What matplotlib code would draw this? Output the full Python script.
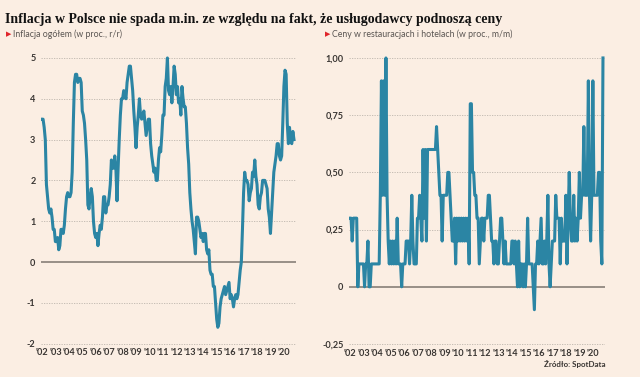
import numpy as np
import matplotlib
matplotlib.use("Agg")
import matplotlib.pyplot as plt

# monthly data, Jan 2002 - Oct 2020
inflacja = [
    3.5, 3.5, 3.3, 3.0, 1.9, 1.6, 1.3, 1.2, 1.3, 1.1, 0.8, 0.8,   # 2002
    0.5, 0.5, 0.6, 0.3, 0.4, 0.8, 0.8, 0.7, 0.9, 1.3, 1.6, 1.7,   # 2003
    1.6, 1.6, 1.7, 2.2, 3.4, 4.4, 4.6, 4.6, 4.4, 4.5, 4.5, 4.4,   # 2004
    3.7, 3.6, 3.4, 3.0, 2.5, 1.4, 1.3, 1.6, 1.8, 1.6, 1.0, 0.7,   # 2005
    0.6, 0.7, 0.4, 0.7, 0.9, 0.8, 1.1, 1.6, 1.6, 1.2, 1.4, 1.4,   # 2006
    1.6, 1.9, 2.5, 2.3, 2.3, 2.6, 2.3, 1.5, 2.3, 3.0, 3.6, 4.0,   # 2007
    4.0, 4.2, 4.1, 4.0, 4.4, 4.6, 4.8, 4.8, 4.5, 4.2, 3.7, 3.3,   # 2008
    2.8, 3.3, 3.6, 4.0, 3.6, 3.5, 3.6, 3.7, 3.4, 3.1, 3.3, 3.5,   # 2009
    3.5, 2.9, 2.6, 2.4, 2.2, 2.3, 2.0, 2.0, 2.5, 2.8, 2.7, 3.1,   # 2010
    3.6, 3.6, 4.3, 4.5, 5.0, 4.2, 4.1, 4.3, 3.9, 4.3, 4.8, 4.6,   # 2011
    4.1, 4.3, 3.9, 4.0, 3.6, 4.3, 4.0, 3.8, 3.8, 3.4, 2.8, 2.4,   # 2012
    1.7, 1.3, 1.0, 0.8, 0.5, 0.2, 1.1, 1.1, 1.0, 0.8, 0.6, 0.7,   # 2013
    0.5, 0.7, 0.7, 0.3, 0.2, 0.3, -0.2, -0.3, -0.3, -0.6, -0.6, -1.0,   # 2014
    -1.4, -1.6, -1.5, -1.1, -0.9, -0.8, -0.7, -0.6, -0.8, -0.7, -0.6, -0.5,   # 2015
    -0.9, -0.8, -0.9, -1.1, -0.9, -0.8, -0.9, -0.8, -0.5, -0.2, 0.0, 0.8,   # 2016
    1.7, 2.2, 2.0, 2.0, 1.9, 1.5, 1.7, 1.8, 2.2, 2.1, 2.5, 2.1,   # 2017
    1.9, 1.4, 1.3, 1.6, 1.7, 2.0, 2.0, 2.0, 1.9, 1.8, 1.3, 1.1,   # 2018
    0.7, 1.2, 1.7, 2.2, 2.4, 2.6, 2.9, 2.9, 2.6, 2.5, 2.6, 3.4,   # 2019
    4.3, 4.7, 4.6, 3.4, 2.9, 3.3, 3.0, 2.9, 3.2, 3.0,             # 2020
]

restauracje = [
    0.3, 0.3, 0.2, 0.3, 0.3, 0.3, 0.3, 0.0, 0.1, 0.1, 0.1, 0.1,   # 2002
    0.1, 0.0, 0.1, 0.1, 0.2, 0.0, 0.0, 0.1, 0.1, 0.1, 0.1, 0.1,   # 2003
    0.1, 0.1, 0.1, 0.4, 0.9, 0.4, 0.9, 0.4, 1.0, 0.4, 0.2, 0.1,   # 2004
    0.2, 0.1, 0.2, 0.1, 0.2, 0.1, 0.3, 0.1, 0.1, 0.1, 0.0, 0.1,   # 2005
    0.1, 0.1, 0.2, 0.2, 0.2, 0.1, 0.2, 0.4, 0.2, 0.1, 0.1, 0.1,   # 2006
    0.3, 0.3, 0.4, 0.3, 0.2, 0.6, 0.3, 0.6, 0.2, 0.6, 0.6, 0.6,   # 2007
    0.6, 0.6, 0.6, 0.6, 0.6, 0.7, 0.6, 0.5, 0.4, 0.4, 0.2, 0.4,   # 2008
    0.4, 0.4, 0.4, 0.5, 0.5, 0.4, 0.3, 0.2, 0.2, 0.3, 0.1, 0.3,   # 2009
    0.2, 0.3, 0.2, 0.3, 0.2, 0.3, 0.2, 0.3, 0.2, 0.3, 0.1, 0.8,   # 2010
    0.8, 0.5, 0.5, 0.4, 0.4, 0.3, 0.3, 0.1, 0.2, 0.3, 0.3, 0.2,   # 2011
    0.3, 0.3, 0.3, 0.4, 0.4, 0.3, 0.2, 0.2, 0.1, 0.2, 0.2, 0.1,   # 2012
    0.1, 0.2, 0.3, 0.3, 0.2, 0.1, 0.2, 0.1, 0.1, 0.1, 0.1, 0.1,   # 2013
    0.2, 0.2, 0.1, 0.2, 0.1, 0.0, 0.2, 0.0, 0.1, 0.1, 0.0, 0.1,   # 2014
    0.0, 0.1, 0.3, 0.1, 0.1, 0.1, 0.1, 0.0, -0.1, 0.1, 0.1, 0.2,  # 2015
    0.1, 0.2, 0.3, 0.1, 0.1, 0.2, 0.1, 0.2, 0.4, 0.1, 0.0, 0.1,   # 2016
    0.2, 0.2, 0.2, 0.4, 0.3, 0.3, 0.3, 0.1, 0.3, 0.2, 0.2, 0.2,   # 2017
    0.4, 0.1, 0.3, 0.5, 0.3, 0.2, 0.2, 0.4, 0.2, 0.3, 0.2, 0.3,   # 2018
    0.5, 0.3, 0.4, 0.4, 0.7, 0.4, 0.4, 0.4, 0.9, 0.4, 0.2, 0.4,   # 2019
    0.9, 0.4, 0.4, 0.4, 0.4, 0.5, 0.5, 0.2, 0.1, 1.0,             # 2020
]

lata = list(range(2002, 2021))
lata_etykiety = ["'%02d" % (y % 100) for y in lata]

left_ticks = [-2, -1, 0, 1, 2, 3, 4, 5]
left_labels = ["-2", "-1", "0", "1", "2", "3", "4", "5"]
right_ticks = [-0.25, 0, 0.25, 0.5, 0.75, 1.0]
right_labels = ["-0,25", "0", "0,25", "0,50", "0,75", "1,00"]

tytul = "Inflacja w Polsce nie spada m.in. ze względu na fakt, że usługodawcy podnoszą ceny"
sub_left = "Inflacja ogółem (w proc., r/r)"
sub_right = "Ceny w restauracjach i hotelach (w proc., m/m)"

bg = "#fbeee3"
line_col = "#2b85a4"
W, H = 640, 377

t = 2002 + np.arange(len(inflacja)) / 12.0

fig = plt.figure(figsize=(6.4, 3.77), dpi=100, facecolor=bg)


def px_axes(x0, x1, y0, y1):
    return fig.add_axes([x0 / W, 1 - y1 / H, (x1 - x0) / W, (y1 - y0) / H])


def style(ax, ticks, labels, ylim):
    ax.set_facecolor(bg)
    for s in ax.spines.values():
        s.set_visible(False)
    ax.set_xlim(2001.93, 2020.90)
    ax.set_ylim(*ylim)
    ax.set_yticks(ticks)
    ax.set_yticklabels(labels)
    ax.set_xticks(lata)
    ax.set_xticklabels(lata_etykiety)
    ax.tick_params(length=0, labelsize=6.6, colors="#3a3633", pad=0.5)
    ax.tick_params(axis="y", pad=4)
    for lab in ax.get_xticklabels() + ax.get_yticklabels():
        lab.set_fontfamily("Lato")
        lab.set_fontweight("bold")
    for v in ticks:
        if v == 0:
            ax.axhline(0, color="#7d756e", lw=1.1, zorder=1)
        else:
            ax.axhline(v, color="#bdb5ad", lw=0.6, ls=(0, (1.5, 1.5)), zorder=1)


ax1 = px_axes(41, 296, 49.8, 347.7)
style(ax1, left_ticks, left_labels, (-2.1, 5.2))
ax1.plot(t, inflacja, color=line_col, lw=2.2, zorder=3, solid_joinstyle="round")

ax2 = px_axes(349, 605, 48.8, 348.6)
style(ax2, right_ticks, right_labels, (-0.27, 1.04))
ax2.plot(t, restauracje, color=line_col, lw=2.2, zorder=3, solid_joinstyle="round")

fig.text(5 / W, 1 - 19 / H, tytul, fontsize=10.0, fontweight="bold",
         family="Liberation Serif", color="#111111", va="center", ha="left")

for xp, txt in [(6, sub_left), (325, sub_right)]:
    fig.text(xp / W, 1 - 34 / H, "\u25B6", fontsize=5, color="#e0242a",
             family="DejaVu Sans", va="center", ha="left")
    fig.text((xp + 7) / W, 1 - 34 / H, txt, fontsize=6.3, color="#5a5552",
             family="Lato", va="center", ha="left")

fig.text(606 / W, 1 - 364 / H, "Źródło: SpotData", fontsize=5.8, color="#3a3633",
         family="Lato", fontweight="bold", va="center", ha="right")

fig.savefig("out.png", dpi=100, facecolor=bg)
